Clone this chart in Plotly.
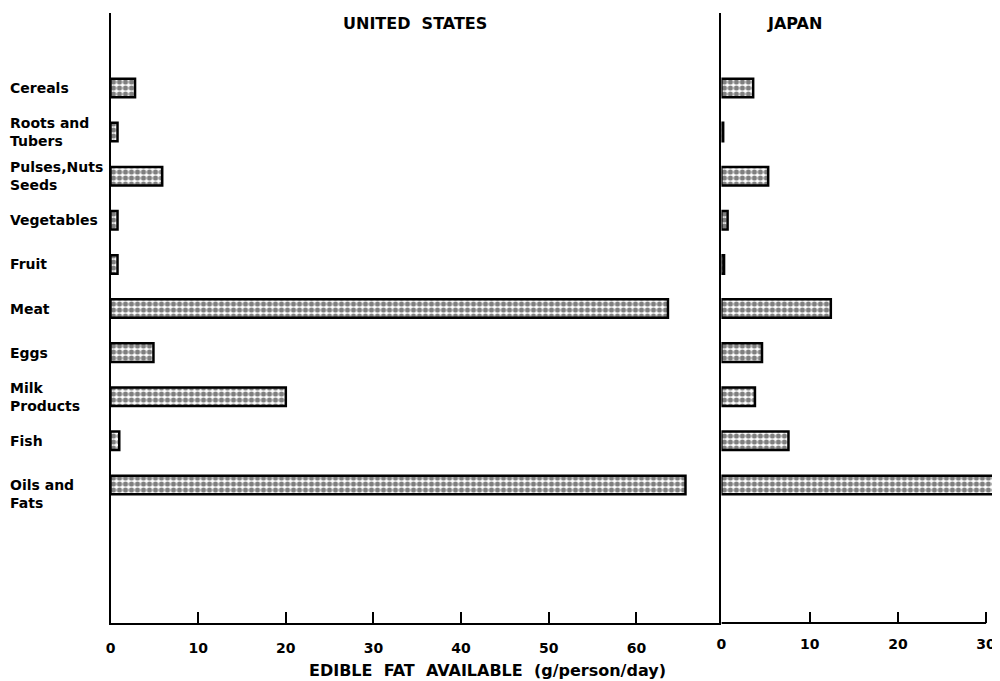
import plotly.graph_objects as go

categories = ["Cereals", "Roots and<br>Tubers", "Pulses,Nuts<br>Seeds", "Vegetables", "Fruit",
              "Meat", "Eggs", "Milk<br>Products", "Fish", "Oils and<br>Fats"]
us_values = [2.8, 0.8, 5.9, 0.8, 0.8, 63.6, 4.9, 20.0, 1.0, 65.6]
japan_values = [3.6, 0.2, 5.3, 0.7, 0.3, 12.4, 4.6, 3.8, 7.6, 31.1]
us_ticks = [0, 10, 20, 30, 40, 50, 60]
jp_ticks = [0, 10, 20, 30]
panel_titles = ["UNITED\u00a0\u00a0STATES", "JAPAN"]
x_title = "EDIBLE\u00a0\u00a0FAT\u00a0\u00a0AVAILABLE\u00a0\u00a0(g/person/day)"

FONT = "DejaVu Sans"
OFF = 8  # page body margin
W, H = 1000 - OFF, 681 - OFF


def px(x):
    return (x - OFF) / W


def py(y):
    return 1 - (y - OFF) / H


y_bot = py(623)
y_top = py(13)
cat_idx = list(range(len(categories)))

bar_marker = dict(color="white", line=dict(color="black", width=2.5),
                  pattern=dict(shape=".", fgcolor="black", bgcolor="white", size=6, solidity=0.6))

fig = go.Figure()
fig.add_trace(go.Bar(x=us_values, y=cat_idx, orientation="h", width=0.42,
                     marker=bar_marker, xaxis="x", yaxis="y", showlegend=False))
fig.add_trace(go.Bar(x=japan_values, y=cat_idx, orientation="h", width=0.42,
                     marker=bar_marker, xaxis="x2", yaxis="y2", showlegend=False))

xcommon = dict(showgrid=False, zeroline=False, ticks="inside", ticklen=11, tickwidth=2,
               tickcolor="black", linecolor="black", linewidth=2,
               tickfont=dict(family=FONT, size=14, color="black", weight="bold"),
               ticklabelstandoff=11)
ycommon = dict(showgrid=False, zeroline=False, showticklabels=False, ticks="",
               showline=True, linecolor="black", linewidth=2,
               range=[12.13, -1.7], domain=[y_bot, y_top])

fig.update_layout(
    width=W, height=H, margin=dict(l=0, r=0, t=0, b=0),
    plot_bgcolor="white", paper_bgcolor="white",
    xaxis=dict(domain=[px(106), px(720)], range=[0, 69.7], tickvals=us_ticks,
               showline=True, anchor="y", **xcommon),
    xaxis2=dict(domain=[px(720), px(998)], range=[0, 31.35], tickvals=jp_ticks,
                showline=False, anchor="y2", **xcommon),
    yaxis=dict(anchor="x", **ycommon),
    yaxis2=dict(anchor="x2", **ycommon),
)

# Japan baseline ending at the last tick
fig.add_shape(type="line", xref="x2", yref="paper", x0=0, x1=max(jp_ticks),
              y0=y_bot, y1=y_bot, line=dict(color="black", width=2))

# Category labels, left aligned
for i, lab in enumerate(categories):
    fig.add_annotation(x=px(3), xref="paper", xanchor="left", y=i, yref="y",
                       text=lab, showarrow=False, align="left",
                       yshift=-9 if i == len(categories) - 1 else 0,
                       font=dict(family=FONT, size=14, color="black", weight="bold"))

fig.add_annotation(x=px(412), y=py(23), xref="paper", yref="paper", yanchor="middle",
                   text=panel_titles[0], showarrow=False,
                   font=dict(family=FONT, size=16, color="black", weight="bold"))
fig.add_annotation(x=px(823), y=py(23), xref="paper", yref="paper", yanchor="middle",
                   text=panel_titles[1], showarrow=False,
                   font=dict(family=FONT, size=16, color="black", weight="bold"))
fig.add_annotation(x=px(485), y=py(670), xref="paper", yref="paper", yanchor="middle",
                   text=x_title, showarrow=False,
                   font=dict(family=FONT, size=16, color="black", weight="bold"))

fig.write_html("out.html")
